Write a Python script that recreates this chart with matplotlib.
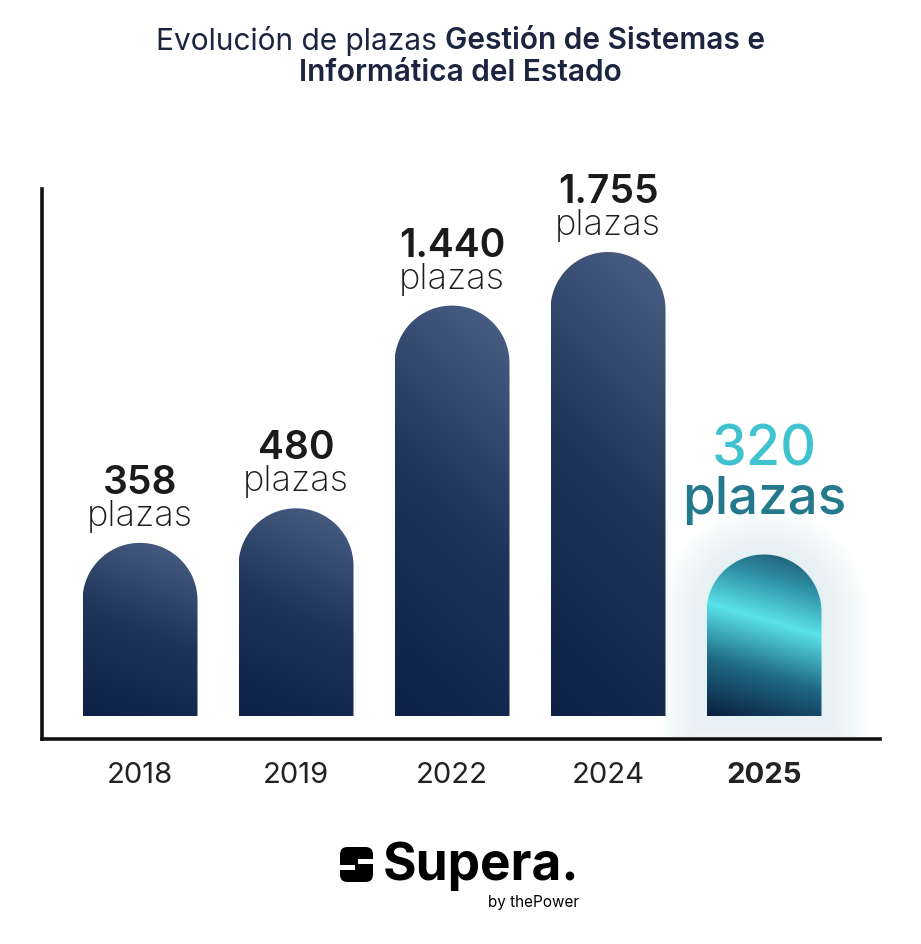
import numpy as np
import matplotlib
matplotlib.use("Agg")
import matplotlib.pyplot as plt
from matplotlib.path import Path
from matplotlib.patches import PathPatch, FancyBboxPatch, Rectangle
from matplotlib.colors import LinearSegmentedColormap

plt.rcParams['font.family'] = ['Inter', 'DejaVu Sans']

years = ["2018", "2019", "2022", "2024", "2025"]
plazas = [358, 480, 1440, 1755, 320]
value_labels = ["358", "480", "1.440", "1.755", "320"]
highlight = 4  # 2025

# bar heights in the original are not linear, a power scale looks close
P = 0.62
def fwd(v):
    v = np.asarray(v, dtype=float)
    return np.sign(v) * np.abs(v) ** P
def inv(s):
    s = np.asarray(s, dtype=float)
    return np.sign(s) * np.abs(s) ** (1 / P)

W, H = 921, 945
fig = plt.figure(figsize=(W / 100, H / 100), dpi=100)
ax_l, ax_b, ax_r, ax_t = 42, 740, 880, 190
ax = fig.add_axes([ax_l / W, 1 - ax_b / H, (ax_r - ax_l) / W, (ax_b - ax_t) / H])

step = 156.0
xlim = (-(140 - ax_l) / step, (ax_r - 140) / step)
px_per_s = 464 / fwd(1755)
s_lo = -(ax_b - 717) / px_per_s
s_hi = s_lo + (ax_b - ax_t) / px_per_s
ax.set_yscale('function', functions=(fwd, inv))
ax.set_xlim(*xlim)
ax.set_ylim(float(inv(s_lo)), float(inv(s_hi)))
ax.autoscale(False)

# transform working in scaled (linear) coordinates
trans_s = ax.transLimits + ax.transAxes
px_per_x = (ax_r - ax_l) / (xlim[1] - xlim[0])
bw = 115 / step
r_s = (bw / 2) * px_per_x / px_per_s

navy = LinearSegmentedColormap.from_list("navy", ["#0c2145", "#1e3459", "#4b6286"])
teal = LinearSegmentedColormap.from_list(
    "teal", [(0, "#0a1f3e"), (0.3, "#1f6a84"), (0.58, "#5ae2ea"),
             (0.8, "#2f90a6"), (1.0, "#1b4e69")])

def arch_path(xc, top, grow_x=0.0, grow_s=0.0, bottom=0.0):
    x0, x1 = xc - bw / 2 - grow_x, xc + bw / 2 + grow_x
    rr = r_s + grow_s
    yc = top - r_s
    th = np.linspace(np.pi, 0, 60)
    verts = [(x0, bottom), (x0, yc)]
    verts += list(zip(xc + (bw / 2 + grow_x) * np.cos(th), yc + rr * np.sin(th)))
    verts += [(x1, yc), (x1, bottom), (x0, bottom)]
    codes = [Path.MOVETO] + [Path.LINETO] * (len(verts) - 2) + [Path.CLOSEPOLY]
    return Path(verts, codes)

for i, v in enumerate(plazas):
    top = float(fwd(v))
    if i == highlight:
        # soft glow
        for k in range(18, 0, -1):
            g = k * 2.6
            gp = arch_path(i, top, g / px_per_x, g / px_per_s, bottom=-g / px_per_s)
            ax.add_patch(PathPatch(gp, transform=trans_s, facecolor="#d6f1f4",
                                   edgecolor="none", alpha=0.035, zorder=1))
    patch = PathPatch(arch_path(i, top), transform=trans_s, facecolor="none",
                      edgecolor="none", zorder=2)
    ax.add_patch(patch)
    ny, nx = 200, 100
    yy, xx = np.mgrid[0:1:ny * 1j, 0:1:nx * 1j]
    if i == highlight:
        hpx = top * px_per_s
        u = yy * hpx + 0.287 * xx * 115
        t = u / (hpx + 0.287 * 115)
        cmap = teal
    else:
        t = 0.8 * yy + 0.2 * xx
        cmap = navy
    im = ax.imshow(t, cmap=cmap, vmin=0, vmax=1, origin="lower", aspect="auto",
                   extent=(i - bw / 2, i + bw / 2, 0, top), transform=trans_s,
                   interpolation="bilinear", zorder=3)
    im.set_clip_path(patch)

    # labels above bars
    if i == highlight:
        ax.annotate("plazas", (i, v), xytext=(0, 30), textcoords="offset points",
                    ha="center", va="baseline", fontsize=38, fontweight="medium",
                    color="#24798c", zorder=5)
        ax.annotate(value_labels[i], (i, v), xytext=(0, 65), textcoords="offset points",
                    ha="center", va="baseline", fontsize=40, fontweight="medium",
                    color="#40c3cf", zorder=5)
    else:
        ax.annotate("plazas", (i, v), xytext=(0, 13), textcoords="offset points",
                    ha="center", va="baseline", fontsize=26, fontweight="light",
                    color="#1b1b1b", zorder=5)
        ax.annotate(value_labels[i], (i, v), xytext=(0, 36), textcoords="offset points",
                    ha="center", va="baseline", fontsize=28, fontweight="semibold",
                    color="#1b1b1b", zorder=5)

ax.set_xticks(range(len(years)))
ax.set_xticklabels(years, fontsize=21, color="#222222")
ax.get_xticklabels()[highlight].set_fontweight("bold")
ax.tick_params(axis="x", length=0, pad=16)
ax.set_yticks([])
ax.yaxis.set_minor_locator(matplotlib.ticker.NullLocator())
for sp in ["top", "right"]:
    ax.spines[sp].set_visible(False)
for sp in ["left", "bottom"]:
    ax.spines[sp].set_linewidth(2.6)
    ax.spines[sp].set_color("#111111")
ax.patch.set_alpha(0)

# title in two weights, centred by measuring
title_col = "#1c2540"
renderer = fig.canvas.get_renderer()
t1 = fig.text(0, 1 - 41 / H, "Evolución de plazas ", fontsize=21.5, color=title_col,
              va="center", ha="left")
t2 = fig.text(0, 1 - 41 / H, "Gestión de Sistemas e", fontsize=21.5, color=title_col,
              va="center", ha="left", fontweight="semibold")
w1 = t1.get_window_extent(renderer).width
w2 = t2.get_window_extent(renderer).width
x_start = (W - (w1 + w2)) / 2
t1.set_x(x_start / W)
t2.set_x((x_start + w1) / W)
fig.text(0.5, 1 - 73 / H, "Informática del Estado", fontsize=21.5, color=title_col,
         va="center", ha="center", fontweight="semibold")

# logo
fig.text(383 / W, 1 - 880 / H, "Supera.", fontsize=37, fontweight="bold",
         color="black", ha="left", va="baseline")
fig.text(579 / W, 1 - 907 / H, "by thePower", fontsize=11, color="black",
         ha="right", va="baseline")
fig.patches.append(FancyBboxPatch((340 / W, 1 - 883 / H), 33 / W, 35 / H,
                                  boxstyle="round,pad=0,rounding_size=0.008",
                                  transform=fig.transFigure, facecolor="black",
                                  edgecolor="none", figure=fig))
fig.patches.append(Rectangle((358 / W, 1 - 865 / H), 16 / W, 5 / H,
                             transform=fig.transFigure, facecolor="white",
                             edgecolor="none", figure=fig))
fig.patches.append(Rectangle((339 / W, 1 - 871 / H), 16 / W, 5 / H,
                             transform=fig.transFigure, facecolor="white",
                             edgecolor="none", figure=fig))

fig.savefig("out.png", dpi=100)
